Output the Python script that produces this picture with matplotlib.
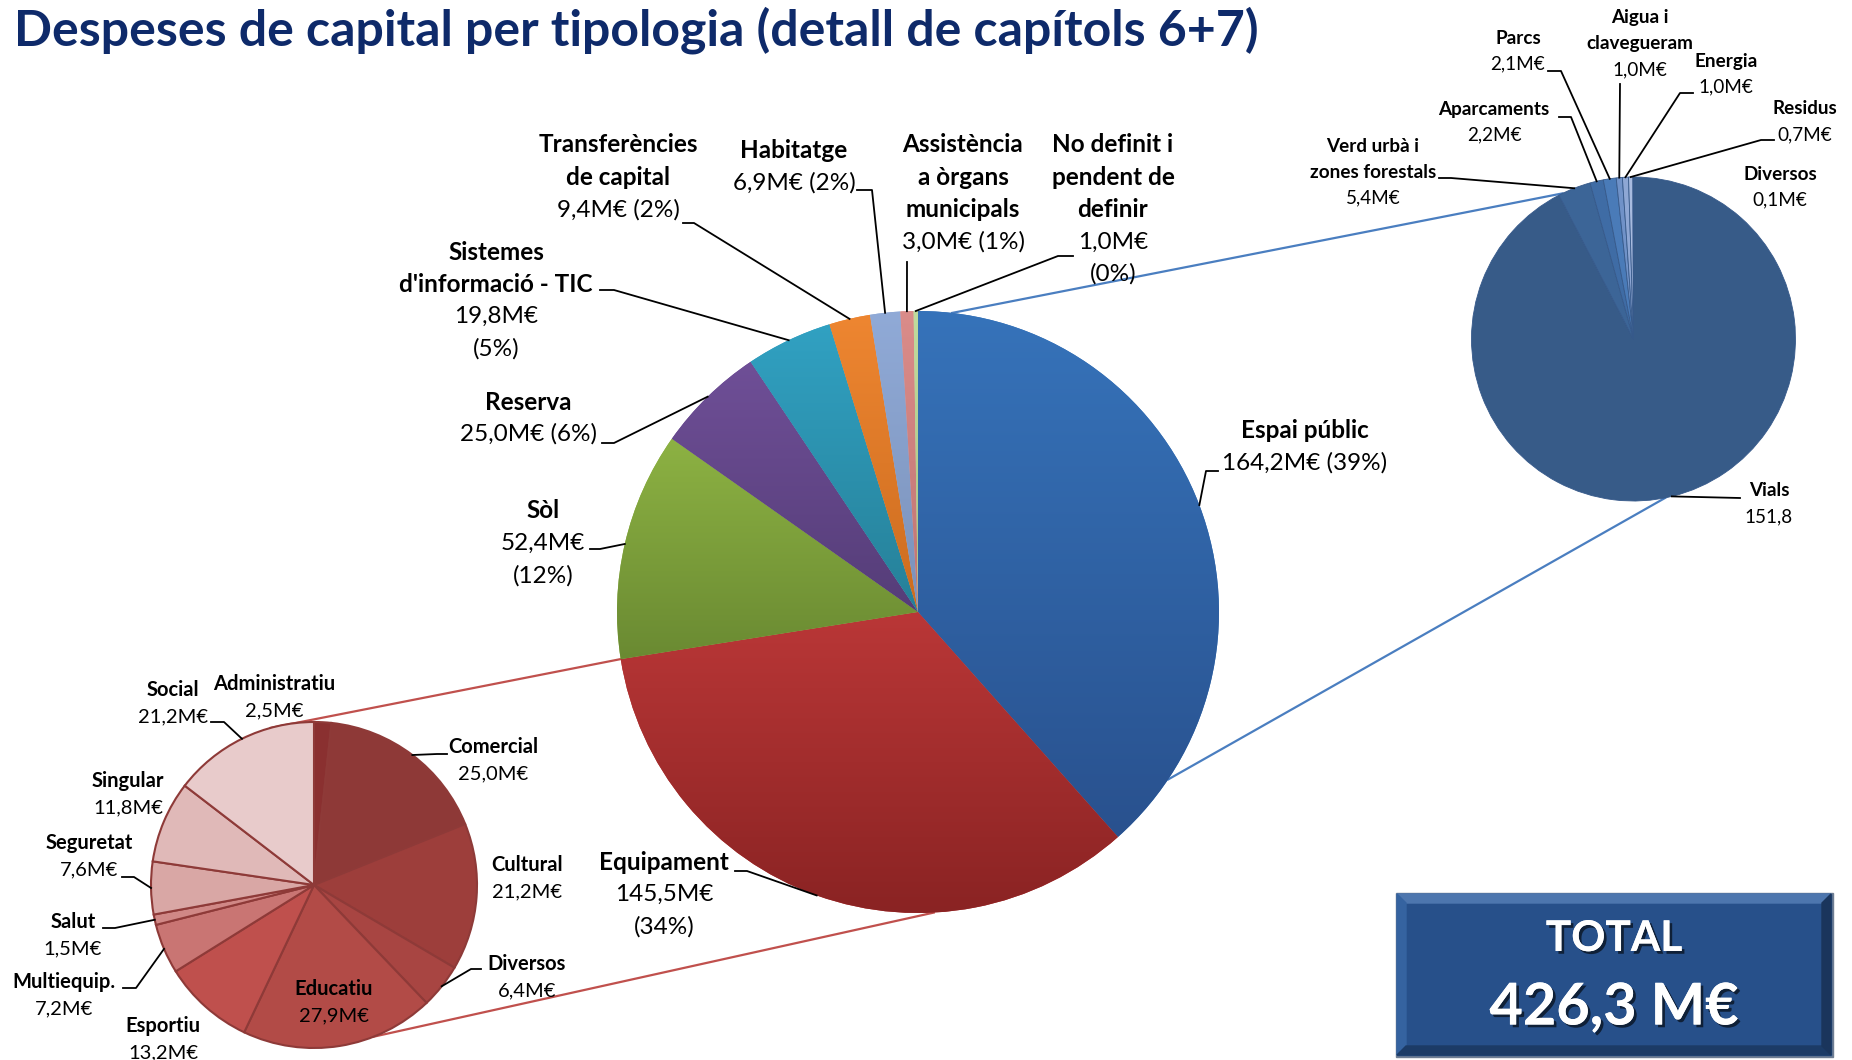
import numpy as np
import matplotlib
matplotlib.use('Agg')
from matplotlib import pyplot as plt
from matplotlib.colors import to_rgb
from matplotlib.patches import Polygon
import matplotlib.patheffects as pe

# main pie: capital expenditure by type (clockwise from 12 o'clock)
main_names = ['Espai públic', 'Equipament', 'Sòl', 'Reserva',
              "Sistemes\nd'informació - TIC", 'Transferències\nde capital',
              'Habitatge', 'Assistència\na òrgans\nmunicipals',
              'No definit i\npendent de\ndefinir']
main_values = [164.2, 145.5, 52.4, 25.0, 19.8, 9.4, 6.9, 3.0, 1.0]
main_pct = [39, 34, 12, 6, 5, 2, 2, 1, 0]
main_top = ['#3673BA', '#BA3737', '#8DB243', '#6F4F97', '#31A1C2',
            '#EE8631', '#90AAD7', '#DA8C8A', '#C0DB9E']
main_bot = ['#29518E', '#8A2323', '#6A8A32', '#553D78', '#268098',
            '#CC6C1F', '#7B92BA', '#C07472', '#A6C484']

# detail of "Espai públic"
espai_names = ['Vials', 'Verd urbà i\nzones forestals', 'Aparcaments', 'Parcs',
               'Aigua i\nclavegueram', 'Energia', 'Residus', 'Diversos']
espai_values = [151.8, 5.4, 2.2, 2.1, 1.0, 1.0, 0.7, 0.1]
espai_texts = ['151,8', '5,4M€', '2,2M€', '2,1M€', '1,0M€', '1,0M€', '0,7M€', '0,1M€']
espai_colors = ['#375B88', '#3C6597', '#3F6CA5', '#4A7BB8', '#7092C8',
                '#8EA7D4', '#A8BBDF', '#C7D2EA']

# detail of "Equipament"
equip_names = ['Administratiu', 'Comercial', 'Cultural', 'Diversos', 'Educatiu',
               'Esportiu', 'Multiequip.', 'Salut', 'Seguretat', 'Singular', 'Social']
equip_values = [2.5, 25.0, 21.2, 6.4, 27.9, 13.2, 7.2, 1.5, 7.6, 11.8, 21.2]
equip_colors = ['#8A3030', '#8E3937', '#9D3E3B', '#A84542', '#B24B47', '#BF504D',
                '#C97573', '#D08886', '#D9A7A5', '#E0B9B8', '#E8CBCB']

total_text = '426,3 M€'

W, H = 1852, 1060
def Y(y):
    return H - y

def fmt(v):
    return f'{v:.1f}'.replace('.', ',') + 'M€'

plt.rcParams['font.family'] = ['Lato', 'DejaVu Sans']
fig = plt.figure(figsize=(W / 100, H / 100), dpi=100)
ax = fig.add_axes([0, 0, 1, 1])

# pie geometry (pixels)
MC, MR = (918, Y(612)), 301
RC, RR = (1633.5, Y(339)), 162
LC, LR = (314, Y(885)), 163

def pt(c, r, ang):
    a = np.radians(ang)
    return c[0] + r * np.cos(a), c[1] + r * np.sin(a)

# connector lines
for (c1, r1, a1), (c2, r2, a2), col in [
        ((MC, MR, 189), (LC, LR, 105.5), '#C0504D'),
        ((MC, MR, -87), (LC, LR, -68.5), '#C0504D'),
        ((MC, MR, 83.5), (RC, RR, 116), '#4A7EC0'),
        ((MC, MR, -33.8), (RC, RR, -78.7), '#4A7EC0')]:
    x1, y1 = pt(c1, r1, a1)
    x2, y2 = pt(c2, r2, a2)
    ax.plot([x1, x2], [y1, y2], color=col, lw=1.6, zorder=1)

# main pie, each slice with its own vertical gradient
mw, _ = ax.pie(main_values, colors=main_top, startangle=90, counterclock=False,
               center=MC, radius=MR, frame=True,
               wedgeprops=dict(linewidth=0, zorder=2))
g = np.linspace(0, 1, 256)[:, None, None]
for w, ct, cb in zip(mw, main_top, main_bot):
    t1, t2 = sorted([w.theta1, w.theta2])
    angs = np.radians(np.linspace(t1, t2, 200))
    ys = np.concatenate([[MC[1]], MC[1] + MR * np.sin(angs)])
    img = np.array(to_rgb(ct)) + (np.array(to_rgb(cb)) - np.array(to_rgb(ct))) * g
    im = ax.imshow(img, extent=(MC[0] - MR, MC[0] + MR, ys.min(), ys.max()),
                   origin='upper', aspect='auto', zorder=3, interpolation='bilinear')
    im.set_clip_path(w)

rw, _ = ax.pie(espai_values, colors=espai_colors, startangle=90, counterclock=False,
               center=RC, radius=RR, frame=True,
               wedgeprops=dict(linewidth=0.6, edgecolor='#36598A', zorder=2))
lw_, _ = ax.pie(equip_values, colors=equip_colors, startangle=90, counterclock=False,
                center=LC, radius=LR, frame=True,
                wedgeprops=dict(linewidth=1.5, edgecolor='#8E3A38', zorder=2))

def mid(w, c, r):
    return pt(c, r, (w.theta1 + w.theta2) / 2)

def label(x, y0, lines, size, pitch):
    for i, (t, bold) in enumerate(lines):
        ax.text(x, Y(y0 + i * pitch), t, ha='center', va='center', fontsize=size,
                fontweight='bold' if bold else 'normal', color='black', zorder=6)

def leader(pts, w, c, r):
    x, y = mid(w, c, r)
    xs = [p[0] for p in pts] + [x]
    ys = [Y(p[1]) for p in pts] + [y]
    ax.plot(xs, ys, color='black', lw=1.3, zorder=5)

# main labels: (x, first line y, value broken over two lines, leader points)
main_layout = [(1305, 431, False, [(1218, 471), (1206, 471)]),
               (664, 862, True, [(735, 871), (747, 871)]),
               (543, 511, True, [(590, 549), (600, 549)]),
               (528, 402, False, [(602, 443), (614, 443)]),
               (496, 252, True, [(600, 290), (614, 290)]),
               (618, 145, False, [(683, 223), (694, 223)]),
               (794, 151, False, [(857, 190), (872, 190)]),
               (963, 145, False, [(907, 262)]),
               (1113, 145, True, [(1073, 256), (1058, 256)])]
for w, n, v, p, (x, y0, brk, lp) in zip(mw, main_names, main_values, main_pct, main_layout):
    lines = [(s, True) for s in n.split('\n')]
    if brk:
        lines += [(fmt(v), False), (f'({p}%)', False)]
    else:
        lines += [(f'{fmt(v)} ({p}%)', False)]
    label(x, y0, lines, 17.5, 32.3)
    leader(lp, w, MC, MR)

espai_layout = [(1769, 491, [(1740, 498)]),
                (1373, 146, [(1439, 178), (1451, 178)]),
                (1494, 109, [(1559, 117), (1571, 117)]),
                (1518, 38, [(1548, 71), (1561, 71)]),
                (1640, 18, [(1620, 84)]),
                (1726, 61, [(1693, 93), (1680, 93)]),
                (1805, 109, [(1774, 140), (1761, 140)]),
                (1780, 174, None)]
for w, n, t, (x, y0, lp) in zip(rw, espai_names, espai_texts, espai_layout):
    lines = [(s, True) for s in n.split('\n')] + [(t, False)]
    label(x, y0, lines, 13.6, 26)
    if lp:
        leader(lp, w, RC, RR)

equip_layout = [(274, 684, None),
                (493, 747, [(447, 754), (437, 754)]),
                (527, 865, None),
                (527, 964, [(481, 969), (471, 969)]),
                (334, 989, None),
                (163, 1026, None),
                (64, 982, [(123, 988), (136, 988)]),
                (73, 922, [(103, 928), (115, 928)]),
                (89, 843, [(122, 877), (134, 877)]),
                (128, 781, None),
                (173, 690, [(211, 722), (224, 722)])]
for w, n, v, (x, y0, lp) in zip(lw_, equip_names, equip_values, equip_layout):
    label(x, y0, [(n, True), (fmt(v), False)], 14.5, 26.5)
    if lp:
        leader(lp, w, LC, LR)

# title
ax.text(14, Y(30), 'Despeses de capital per tipologia (detall de capítols 6+7)',
        ha='left', va='center', fontsize=36, fontweight='bold', color='#0E2A6A')

# total box with bevel
x0, y0, x1, y1, b = 1397, 894, 1831, 1055, 9
ax.add_patch(Polygon([(x0 - 1, Y(y1 + 2)), (x1 + 2, Y(y1 + 2)), (x1 + 2, Y(y0 - 1)),
                      (x0 - 1, Y(y0 - 1))], closed=True, color='#6F7E93', zorder=7))
ax.add_patch(Polygon([(x0, Y(y0)), (x1, Y(y0)), (x1, Y(y1)), (x0, Y(y1))],
                     closed=True, color='#27508A', zorder=8))
bevels = [([(x0, y0), (x1, y0), (x1 - b, y0 + b), (x0 + b, y0 + b)], '#4D76AE'),
          ([(x0, y0), (x0 + b, y0 + b), (x0 + b, y1 - b), (x0, y1)], '#3563A0'),
          ([(x0, y1), (x0 + b, y1 - b), (x1 - b, y1 - b), (x1, y1)], '#1C3B66'),
          ([(x1, y0), (x1, y1), (x1 - b, y1 - b), (x1 - b, y0 + b)], '#1A355C')]
for poly, col in bevels:
    ax.add_patch(Polygon([(px, Y(py)) for px, py in poly], closed=True, color=col, zorder=9))
shadow = [pe.withSimplePatchShadow(offset=(2, -2), shadow_rgbFace='black', alpha=0.6), pe.Normal()]
ax.text((x0 + x1) / 2, Y(939), 'TOTAL', ha='center', va='center', fontsize=30.5,
        fontweight='bold', color='white', zorder=10, path_effects=shadow)
ax.text((x0 + x1) / 2, Y(1008), total_text, ha='center', va='center', fontsize=41.5,
        fontweight='bold', color='white', zorder=10, path_effects=shadow)

ax.set_xlim(0, W)
ax.set_ylim(0, H)
ax.set_aspect('auto')
ax.axis('off')
fig.savefig('out.png', dpi=100, facecolor='white')
